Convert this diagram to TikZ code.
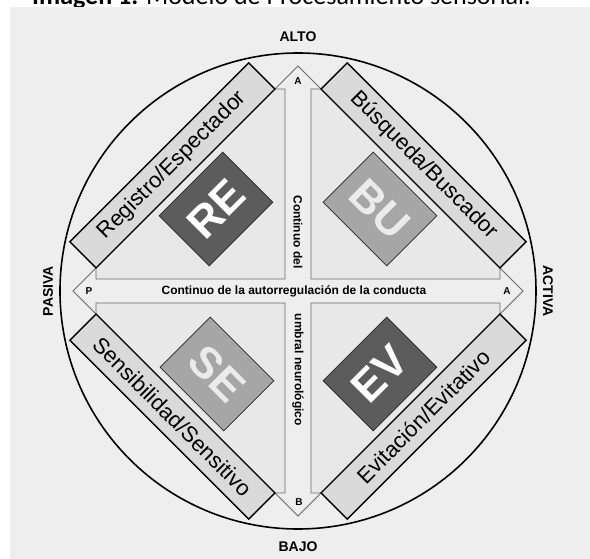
\documentclass[tikz,border=0pt]{standalone}
\usepackage{fontspec}
\setmainfont{Liberation Sans}
\newfontfamily\titlefont{Carlito}
\usetikzlibrary{positioning}

\definecolor{paper}{HTML}{EEEEEE}
\definecolor{bandgray}{HTML}{DADADA}
\definecolor{piecegray}{HTML}{E8E8E8}
\definecolor{darkbox}{HTML}{5C5C5C}
\definecolor{lightbox}{HTML}{A6A6A6}
\definecolor{thinline}{HTML}{6A6A6A}

\begin{document}
\begin{tikzpicture}[x=1pt, y=1pt,
    band/.style={draw=black, line width=1.3pt, fill=bandgray, inner sep=0pt,
      minimum width=253pt, minimum height=37pt, font=\fontsize{22}{22}\selectfont},
    typebox/.style={draw=black!85, line width=0.7pt, inner sep=0pt,
      minimum width=90pt, minimum height=71pt, font=\bfseries\fontsize{44}{44}\selectfont},
    piece/.style={draw=thinline, line width=0.8pt, fill=piecegray},
    pole/.style={font=\bfseries\fontsize{14}{14}\selectfont},
    tipletter/.style={font=\bfseries\fontsize{10}{10}\selectfont},
    axislabel/.style={font=\bfseries\fontsize{12}{12}\selectfont, inner sep=0pt}]
        \useasboundingbox (-298,-268) rectangle (292,291);
        \fill [white] (-298,-268) rectangle (292,291);
        \node [anchor=base west, inner sep=0pt, font=\titlefont\fontsize{26}{26}\selectfont] (title) at (-266,286) {\textbf{Imagen 1.} Modelo de Procesamiento sensorial.};
        \fill [paper] (-288,-268) rectangle (292,284);
        \node [draw, circle, line width=1.6pt, minimum size=476pt, inner sep=0pt] (rim) at (0,0) {};
        % quadrants of the diamond
        \draw [piece] (-13,202) -- (-23,202) -- (-202,23) -- (-202,12) -- (-13,12) -- cycle;
        \draw [piece] (13,202) -- (23,202) -- (202,23) -- (202,12) -- (13,12) -- cycle;
        \draw [piece] (-13,-202) -- (-23,-202) -- (-202,-23) -- (-202,-12) -- (-13,-12) -- cycle;
        \draw [piece] (13,-202) -- (23,-202) -- (202,-23) -- (202,-12) -- (13,-12) -- cycle;
        % arrow ends
        \coordinate (tipA) at (0,225);
        \coordinate (tipB) at (0,-225);
        \coordinate (tipP) at (-225,0);
        \coordinate (tipR) at (225,0);
        \draw [thinline, line width=0.8pt] (-23,202) -- (tipA) -- (23,202);
        \draw [thinline, line width=0.8pt] (-23,-202) -- (tipB) -- (23,-202);
        \draw [thinline, line width=0.8pt] (-202,23) -- (tipP) -- (-202,-23);
        \draw [thinline, line width=0.8pt] (202,23) -- (tipR) -- (202,-23);
        % bands
        \node [band, rotate=45] (registro) at (-125.6,125.6) {Registro/Espectador};
        \node [band, rotate=-45] (busqueda) at (125.6,125.6) {Búsqueda/Buscador};
        \node [band, rotate=-45] (sensib) at (-125.6,-125.6) {Sensibilidad/Sensitivo};
        \node [band, rotate=45] (evitacion) at (125.6,-125.6) {Evitación/Evitativo};
        % type boxes
        \node [typebox, fill=darkbox, text=white, rotate=45] (re) at (-82,82) {RE};
        \node [typebox, fill=lightbox, text=white!92!black, rotate=-45] (bu) at (82,82) {BU};
        \node [typebox, fill=lightbox, text=white!92!black, rotate=-45] (se) at (-81,-83) {SE};
        \node [typebox, fill=darkbox, text=white, rotate=45] (ev) at (82,-83) {EV};
        % axis texts
        \node [axislabel, rotate=-90] (umbralA) at (0,59) {Continuo del};
        \node [axislabel, rotate=-90] (umbralB) at (0,-79) {umbral neurológico};
        \node [axislabel] (autorreg) at (-4,0) {Continuo de la autorregulación de la conducta};
        \node [tipletter] (letA) at (0,210) {A};
        \node [tipletter] (letB) at (1,-211) {B};
        \node [tipletter] (letP) at (-209,0) {P};
        \node [tipletter] (letR) at (209,0) {A};
        \node [pole] (alto) at (0,254) {ALTO};
        \node [pole] (bajo) at (0,-256) {BAJO};
        \node [pole, rotate=90] (pasiva) at (-250,0) {PASIVA};
        \node [pole, rotate=-90] (activa) at (250,0) {ACTIVA};
\end{tikzpicture}
\end{document}
